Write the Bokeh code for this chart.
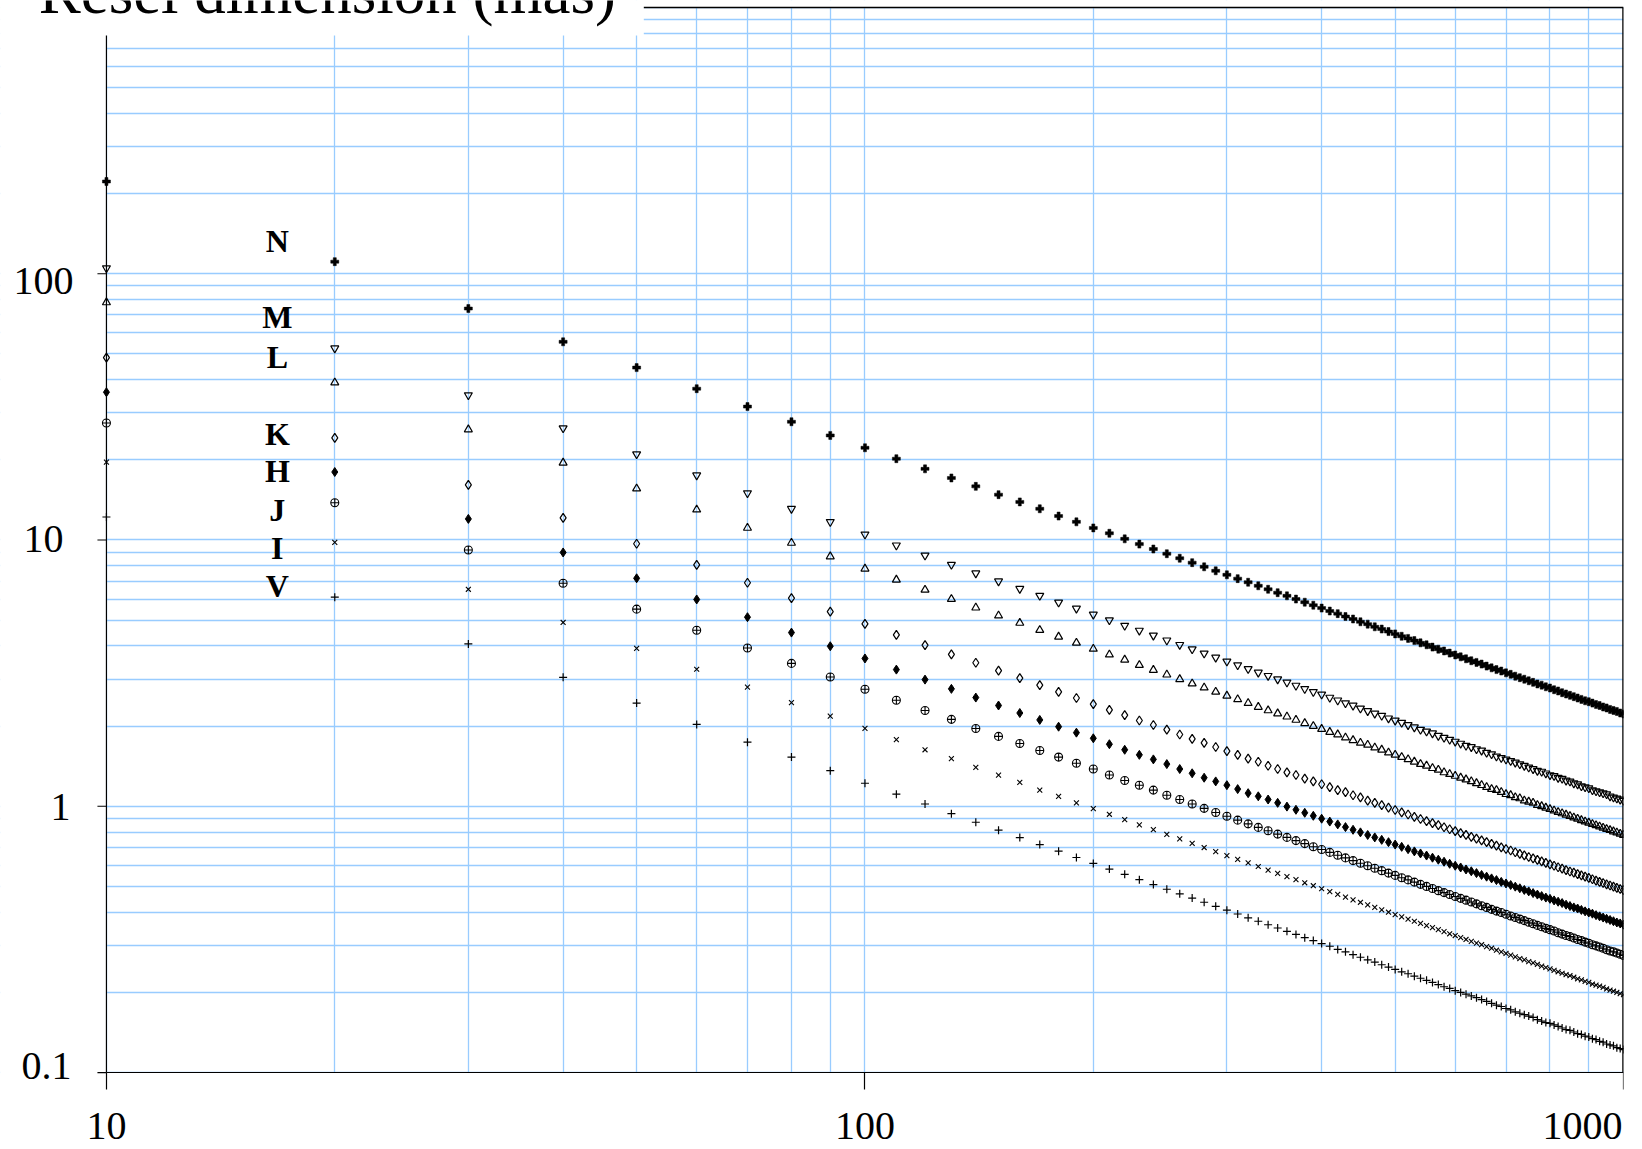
import math
from bokeh.plotting import figure
from bokeh.models import Range1d, FixedTicker, CustomJSTickFormatter, Label, BoxAnnotation
from bokeh.embed import file_html
from bokeh.resources import INLINE
from bokeh.core.properties import value

# Telescope / baseline dimension (m)
aperture = [10, 20, 30, 40, 50, 60, 70, 80, 90, 100,
            110, 120, 130, 140, 150, 160, 170, 180, 190, 200,
            210, 220, 230, 240, 250, 260, 270, 280, 290, 300,
            310, 320, 330, 340, 350, 360, 370, 380, 390, 400,
            410, 420, 430, 440, 450, 460, 470, 480, 490, 500,
            510, 520, 530, 540, 550, 560, 570, 580, 590, 600,
            610, 620, 630, 640, 650, 660, 670, 680, 690, 700,
            710, 720, 730, 740, 750, 760, 770, 780, 790, 800,
            810, 820, 830, 840, 850, 860, 870, 880, 890, 900,
            910, 920, 930, 940, 950, 960, 970, 980, 990, 1000]

resel_N = [222, 111, 74, 55.5, 44.4, 37, 31.7, 27.8, 24.7, 22.2,
           20.2, 18.5, 17.1, 15.9, 14.8, 13.9, 13.1, 12.3, 11.7, 11.1,
           10.6, 10.1, 9.65, 9.25, 8.88, 8.54, 8.22, 7.93, 7.66, 7.4,
           7.16, 6.94, 6.73, 6.53, 6.34, 6.17, 6.0, 5.84, 5.69, 5.55,
           5.41, 5.29, 5.16, 5.05, 4.93, 4.83, 4.72, 4.63, 4.53, 4.44,
           4.35, 4.27, 4.19, 4.11, 4.04, 3.96, 3.89, 3.83, 3.76, 3.7,
           3.64, 3.58, 3.52, 3.47, 3.42, 3.36, 3.31, 3.26, 3.22, 3.17,
           3.13, 3.08, 3.04, 3.0, 2.96, 2.92, 2.88, 2.85, 2.81, 2.78,
           2.74, 2.71, 2.67, 2.64, 2.61, 2.58, 2.55, 2.52, 2.49, 2.47,
           2.44, 2.41, 2.39, 2.36, 2.34, 2.31, 2.29, 2.27, 2.24, 2.22]

resel_M = [105, 52.5, 35, 26.3, 21, 17.5, 15, 13.1, 11.7, 10.5,
           9.55, 8.75, 8.08, 7.5, 7.0, 6.56, 6.18, 5.83, 5.53, 5.25,
           5.0, 4.77, 4.57, 4.38, 4.2, 4.04, 3.89, 3.75, 3.62, 3.5,
           3.39, 3.28, 3.18, 3.09, 3.0, 2.92, 2.84, 2.76, 2.69, 2.63,
           2.56, 2.5, 2.44, 2.39, 2.33, 2.28, 2.23, 2.19, 2.14, 2.1,
           2.06, 2.02, 1.98, 1.94, 1.91, 1.88, 1.84, 1.81, 1.78, 1.75,
           1.72, 1.69, 1.67, 1.64, 1.62, 1.59, 1.57, 1.54, 1.52, 1.5,
           1.48, 1.46, 1.44, 1.42, 1.4, 1.38, 1.36, 1.35, 1.33, 1.31,
           1.3, 1.28, 1.27, 1.25, 1.24, 1.22, 1.21, 1.19, 1.18, 1.17,
           1.15, 1.14, 1.13, 1.12, 1.11, 1.09, 1.08, 1.07, 1.06, 1.05]

resel_L = [78, 39, 26, 19.5, 15.6, 13, 11.1, 9.75, 8.67, 7.8,
           7.09, 6.5, 6.0, 5.57, 5.2, 4.88, 4.59, 4.33, 4.11, 3.9,
           3.71, 3.55, 3.39, 3.25, 3.12, 3.0, 2.89, 2.79, 2.69, 2.6,
           2.52, 2.44, 2.36, 2.29, 2.23, 2.17, 2.11, 2.05, 2.0, 1.95,
           1.9, 1.86, 1.81, 1.77, 1.73, 1.7, 1.66, 1.63, 1.59, 1.56,
           1.53, 1.5, 1.47, 1.44, 1.42, 1.39, 1.37, 1.34, 1.32, 1.3,
           1.28, 1.26, 1.24, 1.22, 1.2, 1.18, 1.16, 1.15, 1.13, 1.11,
           1.1, 1.08, 1.07, 1.05, 1.04, 1.03, 1.01, 1.0, 0.987, 0.975,
           0.963, 0.951, 0.94, 0.929, 0.918, 0.907, 0.897, 0.886, 0.876, 0.867,
           0.857, 0.848, 0.839, 0.83, 0.821, 0.813, 0.804, 0.796, 0.788, 0.78]

resel_K = [48.4, 24.2, 16.1, 12.1, 9.68, 8.07, 6.91, 6.05, 5.38, 4.84,
           4.4, 4.03, 3.72, 3.46, 3.23, 3.03, 2.85, 2.69, 2.55, 2.42,
           2.3, 2.2, 2.1, 2.02, 1.94, 1.86, 1.79, 1.73, 1.67, 1.61,
           1.56, 1.51, 1.47, 1.42, 1.38, 1.34, 1.31, 1.27, 1.24, 1.21,
           1.18, 1.15, 1.13, 1.1, 1.08, 1.05, 1.03, 1.01, 0.988, 0.968,
           0.949, 0.931, 0.913, 0.896, 0.88, 0.864, 0.849, 0.834, 0.82, 0.807,
           0.793, 0.781, 0.768, 0.756, 0.745, 0.733, 0.722, 0.712, 0.701, 0.691,
           0.682, 0.672, 0.663, 0.654, 0.645, 0.637, 0.629, 0.621, 0.613, 0.605,
           0.598, 0.59, 0.583, 0.576, 0.569, 0.563, 0.556, 0.55, 0.544, 0.538,
           0.532, 0.526, 0.52, 0.515, 0.509, 0.504, 0.499, 0.494, 0.489, 0.484]

resel_H = [35.9, 18.0, 12.0, 8.98, 7.18, 5.98, 5.13, 4.49, 3.99, 3.59,
           3.26, 2.99, 2.76, 2.56, 2.39, 2.24, 2.11, 1.99, 1.89, 1.8,
           1.71, 1.63, 1.56, 1.5, 1.44, 1.38, 1.33, 1.28, 1.24, 1.2,
           1.16, 1.12, 1.09, 1.06, 1.03, 0.997, 0.97, 0.945, 0.921, 0.898,
           0.876, 0.855, 0.835, 0.816, 0.798, 0.78, 0.764, 0.748, 0.733, 0.718,
           0.704, 0.69, 0.677, 0.665, 0.653, 0.641, 0.63, 0.619, 0.608, 0.598,
           0.589, 0.579, 0.57, 0.561, 0.552, 0.544, 0.536, 0.528, 0.52, 0.513,
           0.506, 0.499, 0.492, 0.485, 0.479, 0.472, 0.466, 0.46, 0.454, 0.449,
           0.443, 0.438, 0.433, 0.427, 0.422, 0.417, 0.413, 0.408, 0.403, 0.399,
           0.395, 0.39, 0.386, 0.382, 0.378, 0.374, 0.37, 0.366, 0.363, 0.359]

resel_J = [27.5, 13.8, 9.17, 6.88, 5.5, 4.58, 3.93, 3.44, 3.06, 2.75,
           2.5, 2.29, 2.12, 1.96, 1.83, 1.72, 1.62, 1.53, 1.45, 1.38,
           1.31, 1.25, 1.2, 1.15, 1.1, 1.06, 1.02, 0.982, 0.948, 0.917,
           0.887, 0.859, 0.833, 0.809, 0.786, 0.764, 0.743, 0.724, 0.705, 0.688,
           0.671, 0.655, 0.64, 0.625, 0.611, 0.598, 0.585, 0.573, 0.561, 0.55,
           0.539, 0.529, 0.519, 0.509, 0.5, 0.491, 0.482, 0.474, 0.466, 0.458,
           0.451, 0.444, 0.437, 0.43, 0.423, 0.417, 0.41, 0.404, 0.399, 0.393,
           0.387, 0.382, 0.377, 0.372, 0.367, 0.362, 0.357, 0.353, 0.348, 0.344,
           0.34, 0.335, 0.331, 0.327, 0.324, 0.32, 0.316, 0.313, 0.309, 0.306,
           0.302, 0.299, 0.296, 0.293, 0.289, 0.286, 0.284, 0.281, 0.278, 0.275]

resel_I = [19.6, 9.8, 6.53, 4.9, 3.92, 3.27, 2.8, 2.45, 2.18, 1.96,
           1.78, 1.63, 1.51, 1.4, 1.31, 1.23, 1.15, 1.09, 1.03, 0.98,
           0.933, 0.891, 0.852, 0.817, 0.784, 0.754, 0.726, 0.7, 0.676, 0.653,
           0.632, 0.613, 0.594, 0.576, 0.56, 0.544, 0.53, 0.516, 0.503, 0.49,
           0.478, 0.467, 0.456, 0.445, 0.436, 0.426, 0.417, 0.408, 0.4, 0.392,
           0.384, 0.377, 0.37, 0.363, 0.356, 0.35, 0.344, 0.338, 0.332, 0.327,
           0.321, 0.316, 0.311, 0.306, 0.302, 0.297, 0.293, 0.288, 0.284, 0.28,
           0.276, 0.272, 0.268, 0.265, 0.261, 0.258, 0.255, 0.251, 0.248, 0.245,
           0.242, 0.239, 0.236, 0.233, 0.231, 0.228, 0.225, 0.223, 0.22, 0.218,
           0.215, 0.213, 0.211, 0.209, 0.206, 0.204, 0.202, 0.2, 0.198, 0.196]

resel_V = [12.2, 6.1, 4.07, 3.05, 2.44, 2.03, 1.74, 1.53, 1.36, 1.22,
           1.11, 1.02, 0.938, 0.871, 0.813, 0.763, 0.718, 0.678, 0.642, 0.61,
           0.581, 0.555, 0.53, 0.508, 0.488, 0.469, 0.452, 0.436, 0.421, 0.407,
           0.394, 0.381, 0.37, 0.359, 0.349, 0.339, 0.33, 0.321, 0.313, 0.305,
           0.298, 0.29, 0.284, 0.277, 0.271, 0.265, 0.26, 0.254, 0.249, 0.244,
           0.239, 0.235, 0.23, 0.226, 0.222, 0.218, 0.214, 0.21, 0.207, 0.203,
           0.2, 0.197, 0.194, 0.191, 0.188, 0.185, 0.182, 0.179, 0.177, 0.174,
           0.172, 0.169, 0.167, 0.165, 0.163, 0.161, 0.158, 0.156, 0.154, 0.153,
           0.151, 0.149, 0.147, 0.145, 0.144, 0.142, 0.14, 0.139, 0.137, 0.136,
           0.134, 0.133, 0.131, 0.13, 0.128, 0.127, 0.126, 0.124, 0.123, 0.122]

band_names = ["N", "M", "L", "K", "H", "J", "I", "V"]
band_label_x = [16.8, 16.8, 16.8, 16.8, 16.8, 16.8, 16.8, 16.8]
band_label_y = [133, 68.5, 48.6, 25.0, 18.2, 13.0, 9.3, 6.73]

x_major = [10, 100, 1000]
x_minor = [20, 30, 40, 50, 60, 70, 80, 90, 200, 300, 400, 500, 600, 700, 800, 900]
y_major = [0.1, 1, 10, 100]
y_major_labels = ["0.1", "1", "10", "100"]
y_label_dx = [-35, -36, -43, -33]
y_label_dy = [-7, 1, -1, 7]
y_minor = [0.2, 0.3, 0.4, 0.5, 0.6, 0.7, 0.8, 0.9,
           2, 3, 4, 5, 6, 7, 8, 9,
           20, 30, 40, 50, 60, 70, 80, 90,
           200, 300, 400, 500, 600, 700, 800, 900]

title_text = "Resel dimension (mas)"

GRID = "#99CCFF"
SERIF = "Liberation Serif"

X_MIN, X_MAX = 10, 1000
Y_MIN, Y_TOP = 0.1, 1000

p = figure(width=1642, height=1149,
           x_axis_type="log", y_axis_type="log", y_axis_location=None,
           x_range=Range1d(7.25, X_MAX), y_range=Range1d(0.0514, 1062),
           output_backend="svg", toolbar_location=None,
           min_border_left=0, min_border_right=19,
           min_border_top=0, min_border_bottom=0)

p.background_fill_color = "white"
p.border_fill_color = "white"
p.outline_line_color = None

xt = FixedTicker(ticks=x_major, minor_ticks=x_minor)
yt = FixedTicker(ticks=y_major + [Y_TOP], minor_ticks=y_minor)

ax = p.xaxis[0]
ax.ticker = xt
ax.fixed_location = Y_MIN
ax.bounds = (X_MIN, X_MAX)
ax.formatter = CustomJSTickFormatter(
    code="return tick >= 1000 ? '1000\\u00a0\\u00a0' : tick.toString();")
ax.axis_line_color = "black"
ax.axis_line_width = 1.2
ax.major_tick_line_color = "black"
ax.major_tick_line_width = 1.2
ax.major_tick_in = 0
ax.major_tick_out = 17
ax.minor_tick_line_color = None
ax.major_label_text_font = SERIF
ax.major_label_text_font_size = "40px"
ax.major_label_text_color = "black"
ax.major_label_standoff = 13

p.xgrid[0].ticker = xt
p.ygrid[0].ticker = yt
for g in (p.xgrid[0], p.ygrid[0]):
    g.grid_line_color = GRID
    g.grid_line_width = 1.3
    g.minor_grid_line_color = GRID
    g.minor_grid_line_width = 1.3

# keep the grid inside the data area
for box in (dict(left=5, right=X_MIN, bottom=0.01, top=2000),
            dict(left=5, right=2000, bottom=Y_TOP, top=2000),
            dict(left=5, right=2000, bottom=0.01, top=Y_MIN)):
    p.add_layout(BoxAnnotation(level="underlay", fill_color="white", fill_alpha=1,
                               line_alpha=0, **box))

# Series markers
p.scatter(aperture, resel_N, marker="plus", size=8, fill_color="black", line_color="black", line_width=0.5)
p.scatter(aperture, resel_M, marker="inverted_triangle", size=8, fill_color=None, line_color="black", line_width=1.2)
p.scatter(aperture, resel_L, marker="triangle", size=8, fill_color=None, line_color="black", line_width=1.2)
p.scatter(aperture, resel_K, marker="diamond", size=9, fill_color=None, line_color="black", line_width=1.2)
p.scatter(aperture, resel_H, marker="diamond", size=9, fill_color="black", line_color="black", line_width=1)
p.scatter(aperture, resel_J, marker="circle_cross", size=8, fill_color=None, line_color="black", line_width=1.1)
p.scatter(aperture, resel_I, marker="x", size=7, line_color="black", line_width=1.1)
p.scatter(aperture, resel_V, marker="cross", size=8, line_color="black", line_width=1.2)

# Vertical (resel) axis at x = 10: line, ticks, labels
p.segment(x0=X_MIN, y0=Y_MIN, x1=X_MIN, y1=Y_TOP, line_color="black", line_width=1.2)
p.ray(x=X_MIN, y=y_major, length=9, length_units="screen", angle=math.pi,
      line_color="black", line_width=1.2)
p.text(x=X_MIN, y=y_major, text=y_major_labels, x_offset=y_label_dx, y_offset=y_label_dy,
       text_font=value(SERIF), text_font_size="40px", text_align="right",
       text_baseline="middle", text_color="black")

# frame: top at 1000 and right at x = 1000
p.segment(x0=X_MIN, y0=Y_TOP, x1=X_MAX, y1=Y_TOP, line_color="black", line_width=1.5)
p.segment(x0=X_MAX, y0=Y_MIN, x1=X_MAX, y1=Y_TOP, line_color="black", line_width=2.5)

# Band labels
p.text(x=band_label_x, y=band_label_y, text=band_names,
       text_font=value(SERIF), text_font_style="bold", text_font_size="32px",
       text_align="center", text_baseline="middle", text_color="black")

# Axis title on a white box, partly cut at the top
p.add_layout(BoxAnnotation(left=5, right=51.1, bottom=785, top=2000,
                           fill_color="white", fill_alpha=1, line_alpha=0))
p.add_layout(Label(x=8.14, y=1139, text=title_text, text_font=SERIF,
                   text_font_size="63px", text_color="black",
                   text_baseline="alphabetic", text_align="left"))

open("out.html", "w").write(file_html(p, INLINE))
